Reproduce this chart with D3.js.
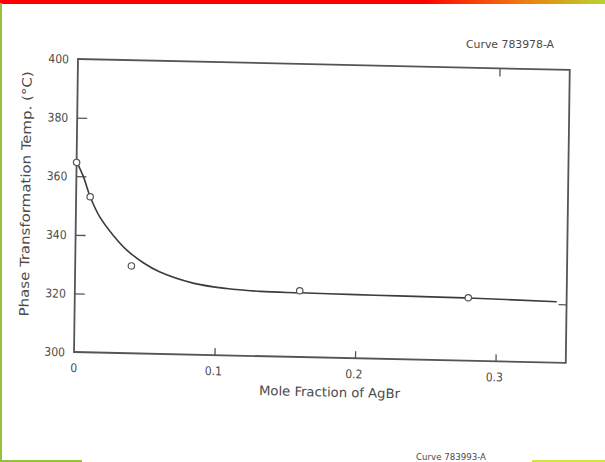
<!DOCTYPE html>
<html><head><meta charset="utf-8">
<script src="https://cdn.jsdelivr.net/npm/d3@7"></script>
<style>
html,body{margin:0;padding:0;background:#fff;}
svg{display:block;}
text{font-family:"DejaVu Sans Condensed","DejaVu Sans",sans-serif;font-stretch:condensed;fill:#4a4a4a;}
</style></head>
<body>
<svg id="chart" width="605" height="462"></svg>
<script>
// ---- data ----
const pointX = [0, 0.01, 0.04, 0.16, 0.28];
const pointY = [364.7, 353.1, 329.8, 322.6, 321.5];
const curveX = [0, 0.005, 0.01, 0.017, 0.027, 0.037, 0.049, 0.06, 0.084, 0.108, 0.132, 0.16, 0.2, 0.23, 0.28, 0.343];
const curveY = [365, 359.9, 353.1, 346.3, 340.0, 335.0, 330.8, 328.0, 324.4, 322.8, 322.1, 321.9, 321.7, 321.6, 321.4, 320.8];
const xTicks = [0, 0.1, 0.2, 0.3];
const xTickLabels = ["0", "0.1", "0.2", "0.3"];
const yTicks = [300, 320, 340, 360, 380, 400];
const yTickLabels = ["300", "320", "340", "360", "380", "400"];
const xTitle = "Mole Fraction of AgBr";
const yTitle = "Phase Transformation Temp. (°C)";
const curveNote = "Curve 783978-A";
const curveNote2 = "Curve 783993-A";

const svg = d3.select("#chart");
const W = 605, H = 462;

// ---- decorative page border ----
const defs = svg.append("defs");
const grad = defs.append("linearGradient").attr("id", "topbar").attr("x1", "0").attr("x2", "1");
grad.append("stop").attr("offset", "0").attr("stop-color", "#ff0000");
grad.append("stop").attr("offset", "0.7").attr("stop-color", "#ff0000");
grad.append("stop").attr("offset", "0.86").attr("stop-color", "#f07a10");
grad.append("stop").attr("offset", "1").attr("stop-color", "#b8d430");
svg.append("rect").attr("x", 0).attr("y", 0).attr("width", W).attr("height", 4).attr("fill", "url(#topbar)");
svg.append("rect").attr("x", 0).attr("y", 3).attr("width", 2).attr("height", H - 3).attr("fill", "#95c23d");
svg.append("rect").attr("x", 0).attr("y", 460).attr("width", 82).attr("height", 2).attr("fill", "#95c23d");
svg.append("rect").attr("x", 532).attr("y", 460).attr("width", 73).attr("height", 2).attr("fill", "#d6e24a");

// ---- chart (scanned, slightly skewed) ----
const w = 491.75, h = 293;
const x = d3.scaleLinear().domain([0, 0.35]).range([0, w]);
const y = d3.scaleLinear().domain([300, 400]).range([h, 0]);

const g = svg.append("g").attr("transform", "translate(78,59) matrix(1,0.0222,-0.0136,1,0,0)");

g.append("rect").attr("x", 0).attr("y", 0).attr("width", w).attr("height", h)
  .attr("fill", "none").attr("stroke", "#555").attr("stroke-width", 1.8);

// inward ticks via d3 axes
const axB = d3.axisTop(x).tickValues(xTicks.slice(1)).tickSize(7).tickFormat("");
g.append("g").attr("transform", `translate(0,${h})`).call(axB)
  .call(s => s.select(".domain").remove())
  .selectAll("line").attr("stroke", "#555").attr("stroke-width", 1.3);
const axT = d3.axisBottom(x).tickValues([0.3]).tickSize(8).tickFormat("");
g.append("g").call(axT).call(s => s.select(".domain").remove())
  .selectAll("line").attr("stroke", "#555").attr("stroke-width", 1.3);
const axL = d3.axisRight(y).tickValues(yTicks.slice(1, 5)).tickSize(10).tickFormat("");
g.append("g").call(axL).call(s => s.select(".domain").remove())
  .selectAll("line").attr("stroke", "#555").attr("stroke-width", 1.3);
const axR = d3.axisLeft(y).tickValues([320]).tickSize(8).tickFormat("");
g.append("g").attr("transform", `translate(${w},0)`).call(axR).call(s => s.select(".domain").remove())
  .selectAll("line").attr("stroke", "#555").attr("stroke-width", 1.3);

// tick labels
g.selectAll(".ylab").data(yTicks).join("text").attr("class", "ylab")
  .attr("x", -9).attr("y", d => y(d) + 4.5).attr("text-anchor", "end")
  .attr("font-size", 12).text((d, i) => yTickLabels[i]);
g.selectAll(".xlab").data(xTicks).join("text").attr("class", "xlab")
  .attr("x", d => x(d) + (d === 0 ? 0 : -1)).attr("y", h + 20).attr("text-anchor", "middle")
  .attr("font-size", 12).text((d, i) => xTickLabels[i]);

// axis titles
g.append("text").attr("x", 256).attr("y", h + 39).attr("text-anchor", "middle")
  .attr("font-size", 13).attr("textLength", 141).attr("lengthAdjust", "spacingAndGlyphs").text(xTitle);
g.append("text").attr("transform", `translate(-46,${136}) rotate(-90)`).attr("text-anchor", "middle")
  .attr("font-size", 13).attr("textLength", 245).attr("lengthAdjust", "spacingAndGlyphs").text(yTitle);

// fitted curve
const line = d3.line().x(d => x(d[0])).y(d => y(d[1])).curve(d3.curveCatmullRom.alpha(0.5));
g.append("path").datum(curveX.map((v, i) => [v, curveY[i]]))
  .attr("d", line).attr("fill", "none").attr("stroke", "#3c3c3c").attr("stroke-width", 1.6);

// data points
g.selectAll(".pt").data(pointX).join("circle").attr("class", "pt")
  .attr("cx", d => x(d)).attr("cy", (d, i) => y(pointY[i])).attr("r", 3.2)
  .attr("fill", "#fff").attr("stroke", "#555").attr("stroke-width", 1.2);

// notes
svg.append("text").attr("x", 510).attr("y", 48).attr("text-anchor", "middle")
  .attr("font-size", 10).attr("textLength", 88).attr("lengthAdjust", "spacingAndGlyphs")
  .attr("fill", "#666").text(curveNote);
svg.append("text").attr("x", 451).attr("y", 460).attr("text-anchor", "middle")
  .attr("font-size", 8).attr("textLength", 70).attr("lengthAdjust", "spacingAndGlyphs")
  .attr("fill", "#888").text(curveNote2);
</script>
</body></html>
